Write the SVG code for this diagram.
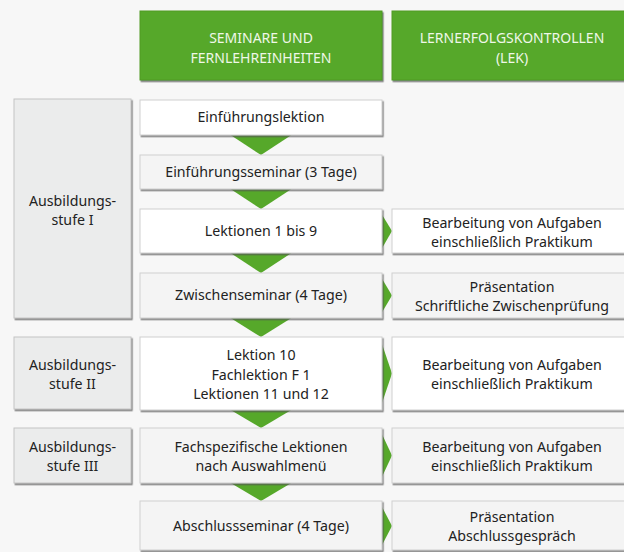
<svg xmlns="http://www.w3.org/2000/svg" width="624" height="552" viewBox="0 0 624 552">
<defs>
<filter id="sh" x="-5%" y="-5%" width="110%" height="120%">
<feDropShadow dx="1.2" dy="1.6" stdDeviation="0.7" flood-color="#555" flood-opacity="0.75"/>
</filter>
<style>
.hd{fill:#56a82a;stroke:#4e9a25;stroke-width:1;filter:url(#sh)}
.wb{fill:#ffffff;stroke:#cfcfcf;stroke-width:1;filter:url(#sh)}
.gb{fill:#f4f4f4;stroke:#cfcfcf;stroke-width:1;filter:url(#sh)}
.sb{fill:#ebecec;stroke:#c4c4c4;stroke-width:1;filter:url(#sh)}
.arr{fill:#56a82a}
text{font-family:"Noto Sans","Open Sans","DejaVu Sans",sans-serif;font-size:14.2px;fill:#222222;text-anchor:middle}
.ht{fill:#eef7e8;font-size:14px}
</style>
</defs>
<rect x="0" y="0" width="624" height="552" fill="#f7f7f7"/>

<g id="connectors">
<polygon class="arr" points="229,134 293,134 261,155"/>
<polygon class="arr" points="229,188 293,188 261,209"/>
<polygon class="arr" points="229,252 293,252 261,273"/>
<polygon class="arr" points="229,317 293,317 261,337"/>
<polygon class="arr" points="229,409 293,409 261,428"/>
<polygon class="arr" points="229,482 293,482 261,501"/>
<polygon class="arr" points="381,213 381,250 392,231"/>
<polygon class="arr" points="381,277 381,314 392,295.5"/>
<polygon class="arr" points="381,341 381,406 392,373.5"/>
<polygon class="arr" points="381,432 381,479 392,455.5"/>
<polygon class="arr" points="381,505 381,547 392,526"/>
</g>

<g id="header-seminare">
<rect class="hd" x="140" y="11" width="242" height="69"/>
<text class="ht" x="261" y="43">SEMINARE UND</text>
<text class="ht" x="261" y="63">FERNLEHREINHEITEN</text>
</g>
<g id="header-lek">
<rect class="hd" x="392" y="11" width="240" height="69"/>
<text class="ht" x="512" y="43">LERNERFOLGSKONTROLLEN</text>
<text class="ht" x="512" y="63">(LEK)</text>
</g>

<g id="stufe1">
<rect class="sb" x="14" y="99" width="117" height="219"/>
<text x="72.5" y="205.5">Ausbildungs-</text>
<text x="72.5" y="225">stufe I</text>
</g>
<g id="stufe2">
<rect class="sb" x="14" y="337" width="117" height="72"/>
<text x="72.5" y="369.5">Ausbildungs-</text>
<text x="72.5" y="389">stufe II</text>
</g>
<g id="stufe3">
<rect class="sb" x="14" y="428" width="117" height="55"/>
<text x="72.5" y="451.5">Ausbildungs-</text>
<text x="72.5" y="471">stufe III</text>
</g>

<g id="einfuehrungslektion">
<rect class="wb" x="140" y="100" width="242" height="35"/>
<text x="261" y="122">Einführungslektion</text>
</g>
<g id="einfuehrungsseminar">
<rect class="gb" x="140" y="155" width="242" height="34"/>
<text x="261" y="177">Einführungsseminar (3 Tage)</text>
</g>
<g id="lektionen1-9">
<rect class="wb" x="140" y="209" width="242" height="44"/>
<text x="261" y="236">Lektionen 1 bis 9</text>
</g>
<g id="lek1">
<rect class="wb" x="392" y="209" width="240" height="44"/>
<text x="512" y="227.5">Bearbeitung von Aufgaben</text>
<text x="512" y="247">einschließlich Praktikum</text>
</g>
<g id="zwischenseminar">
<rect class="gb" x="140" y="273" width="242" height="45"/>
<text x="261" y="300">Zwischenseminar (4 Tage)</text>
</g>
<g id="lek2">
<rect class="gb" x="392" y="273" width="240" height="45"/>
<text x="512" y="291.5">Präsentation</text>
<text x="512" y="311">Schriftliche Zwischenprüfung</text>
</g>
<g id="lektion10">
<rect class="wb" x="140" y="337" width="242" height="73"/>
<text x="261" y="360">Lektion 10</text>
<text x="261" y="379.5">Fachlektion F 1</text>
<text x="261" y="399">Lektionen 11 und 12</text>
</g>
<g id="lek3">
<rect class="wb" x="392" y="337" width="240" height="73"/>
<text x="512" y="369.5">Bearbeitung von Aufgaben</text>
<text x="512" y="389">einschließlich Praktikum</text>
</g>
<g id="fachspezifisch">
<rect class="gb" x="140" y="428" width="242" height="55"/>
<text x="261" y="451.5">Fachspezifische Lektionen</text>
<text x="261" y="471">nach Auswahlmenü</text>
</g>
<g id="lek4">
<rect class="gb" x="392" y="428" width="240" height="55"/>
<text x="512" y="451.5">Bearbeitung von Aufgaben</text>
<text x="512" y="471">einschließlich Praktikum</text>
</g>
<g id="abschlussseminar">
<rect class="gb" x="140" y="501" width="242" height="49"/>
<text x="261" y="531">Abschlussseminar (4 Tage)</text>
</g>
<g id="lek5">
<rect class="gb" x="392" y="501" width="240" height="49"/>
<text x="512" y="521.5">Präsentation</text>
<text x="512" y="541">Abschlussgespräch</text>
</g>
</svg>
